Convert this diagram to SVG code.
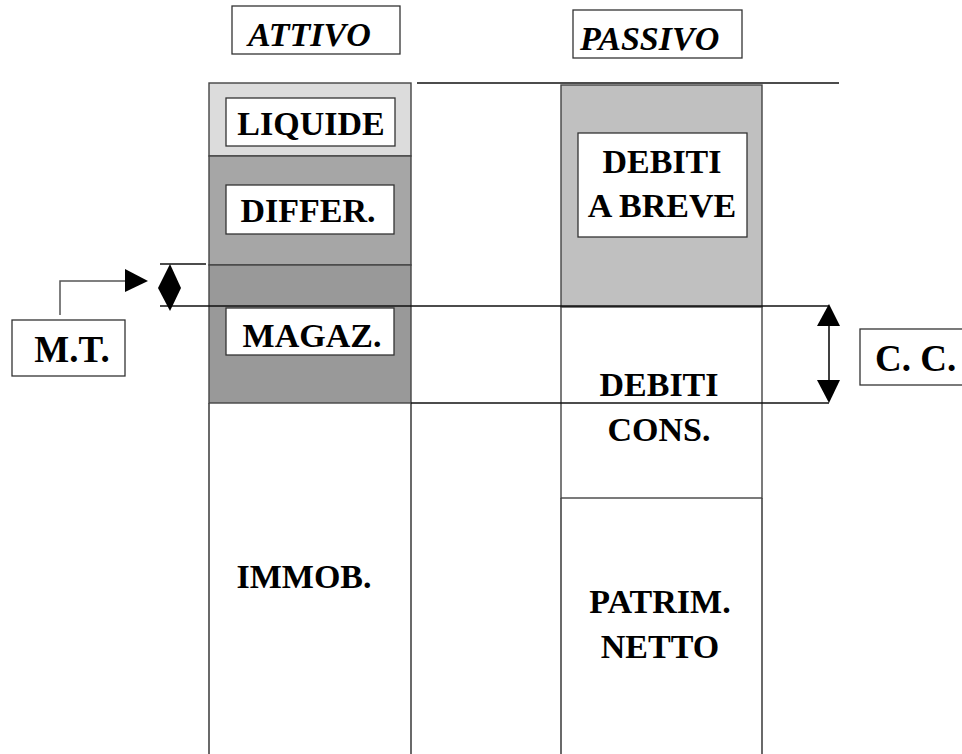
<svg xmlns="http://www.w3.org/2000/svg" width="962" height="754" viewBox="0 0 962 754">
  <style>
    .lbl { font-family: "Liberation Serif", "Times New Roman", serif; font-weight: bold; fill: #000; }
    .hdr { font-style: italic; font-size: 34px; }
    .big { font-size: 34px; }
    .tag { font-size: 37px; }
    .box { fill: #fff; stroke: #333; stroke-width: 1.3; }
    .edge { stroke: #444; stroke-width: 1.6; fill: none; }
    .rule { stroke: #111; stroke-width: 1.3; fill: none; }
    .head { fill: #000; stroke: none; }
  </style>

  <rect width="962" height="754" fill="#fff"/>

  <!-- column headers -->
  <g id="attivo-header">
    <rect class="box" x="232" y="6" width="168" height="48"/>
    <text class="lbl hdr" x="248" y="46">ATTIVO</text>
  </g>
  <g id="passivo-header">
    <rect class="box" x="573" y="10" width="169" height="48"/>
    <text class="lbl hdr" x="580" y="50">PASSIVO</text>
  </g>

  <!-- top reference rule -->
  <g id="connectors">
    <line class="rule" x1="417" y1="83" x2="839" y2="83"/>
  </g>

  <!-- assets column -->
  <g id="liquide">
    <rect x="209" y="83" width="202" height="73" fill="#dcdcdc" stroke="#444" stroke-width="1.4"/>
    <rect class="box" x="226" y="98" width="169" height="48"/>
    <text class="lbl big" x="311" y="135" text-anchor="middle">LIQUIDE</text>
  </g>
  <g id="differ">
    <rect x="209" y="156" width="202" height="109" fill="#a6a6a6" stroke="#444" stroke-width="1.4"/>
    <rect class="box" x="226" y="185" width="168" height="49"/>
    <text class="lbl big" x="308" y="222" text-anchor="middle">DIFFER.</text>
  </g>
  <g id="magaz">
    <rect x="209" y="265" width="202" height="138" fill="#999999" stroke="#444" stroke-width="1.4"/>
    <rect class="box" x="226" y="308" width="168" height="47"/>
    <text class="lbl big" x="312" y="347" text-anchor="middle">MAGAZ.</text>
  </g>
  <g id="immob">
    <line class="edge" x1="209" y1="403" x2="209" y2="754"/>
    <line class="edge" x1="411" y1="403" x2="411" y2="754"/>
    <text class="lbl big" x="304" y="588" text-anchor="middle">IMMOB.</text>
  </g>

  <!-- liabilities column -->
  <g id="debiti-breve">
    <rect x="561" y="85" width="201" height="222" fill="#c0c0c0" stroke="#444" stroke-width="1.4"/>
    <rect class="box" x="578" y="133" width="169" height="104"/>
    <text class="lbl big" x="662" y="173" text-anchor="middle">DEBITI</text>
    <text class="lbl big" x="662" y="217" text-anchor="middle">A BREVE</text>
  </g>
  <g id="debiti-cons">
    <rect x="561" y="307" width="201" height="191" fill="#fff" stroke="#444" stroke-width="1.4"/>
    <text class="lbl big" x="659" y="396" text-anchor="middle">DEBITI</text>
    <text class="lbl big" x="659" y="441" text-anchor="middle">CONS.</text>
  </g>
  <g id="patrim-netto">
    <line class="edge" x1="561" y1="498" x2="561" y2="754"/>
    <line class="edge" x1="762" y1="498" x2="762" y2="754"/>
    <text class="lbl big" x="660" y="613" text-anchor="middle">PATRIM.</text>
    <text class="lbl big" x="660" y="658" text-anchor="middle">NETTO</text>
  </g>

  <!-- measurement lines and arrows -->
  <g id="measures">
    <line class="rule" x1="160" y1="264" x2="206" y2="264"/>
    <line class="rule" x1="160" y1="306" x2="829" y2="306"/>
    <line class="rule" x1="411" y1="403" x2="829" y2="403"/>
    <!-- M.T. pointer -->
    <polyline points="60,315 60,281 126,281" fill="none" stroke="#555" stroke-width="1.5"/>
    <polygon class="head" points="125,269 148,281 125,292"/>
    <!-- M.T. span -->
    <polygon class="head" points="170,264 181,288 170,311 158,288"/>
    <!-- C.C. span -->
    <line x1="829" y1="320" x2="829" y2="386" stroke="#000" stroke-width="1.5"/>
    <polygon class="head" points="829,304 840,326 817,326"/>
    <polygon class="head" points="817,380 840,380 829,403"/>
  </g>

  <g id="mt">
    <rect class="box" x="12" y="320" width="113" height="56"/>
    <text class="lbl tag" x="72" y="362" text-anchor="middle">M.T.</text>
  </g>
  <g id="cc">
    <rect class="box" x="860" y="329" width="110" height="56"/>
    <text class="lbl tag" x="875" y="371">C. C.</text>
  </g>
</svg>
